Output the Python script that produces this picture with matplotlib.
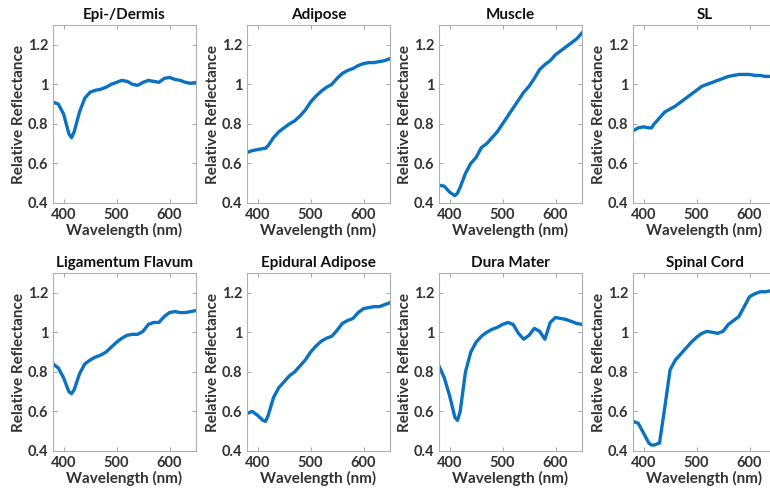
import matplotlib
matplotlib.use("Agg")
import matplotlib.pyplot as plt

plt.rcParams['font.family'] = ['Lato', 'DejaVu Sans']
plt.rcParams['font.weight'] = 'bold'

wl = [380, 390, 400, 410, 415, 420, 430, 440, 450, 460, 470, 480, 490, 500,
      510, 520, 530, 540, 550, 560, 570, 580, 590, 600, 610, 620, 630, 640, 650]

titles = ["Epi-/Dermis", "Adipose", "Muscle", "SL",
          "Ligamentum Flavum", "Epidural Adipose", "Dura Mater", "Spinal Cord"]

epi = [0.91, 0.90, 0.85, 0.75, 0.73, 0.76, 0.86, 0.93, 0.96, 0.97, 0.975, 0.985, 1.0, 1.01,
       1.02, 1.015, 1.0, 0.995, 1.01, 1.02, 1.015, 1.01, 1.03, 1.035, 1.025, 1.02, 1.01, 1.005, 1.01]
adipose = [0.655, 0.665, 0.67, 0.675, 0.677, 0.69, 0.73, 0.76, 0.78, 0.80, 0.815, 0.84, 0.87, 0.91,
           0.94, 0.965, 0.985, 1.0, 1.03, 1.055, 1.07, 1.08, 1.095, 1.105, 1.11, 1.11, 1.115, 1.12, 1.13]
muscle = [0.49, 0.485, 0.455, 0.437, 0.45, 0.48, 0.55, 0.60, 0.63, 0.68, 0.70, 0.73, 0.76, 0.80,
          0.84, 0.88, 0.92, 0.96, 0.99, 1.03, 1.075, 1.10, 1.12, 1.15, 1.17, 1.19, 1.21, 1.23, 1.26]
sl = [0.765, 0.78, 0.785, 0.78, 0.78, 0.80, 0.83, 0.86, 0.875, 0.89, 0.91, 0.93, 0.95, 0.97,
      0.99, 1.0, 1.01, 1.02, 1.03, 1.04, 1.045, 1.05, 1.05, 1.05, 1.045, 1.045, 1.04, 1.04, 1.04]
lig = [0.84, 0.82, 0.77, 0.70, 0.69, 0.71, 0.79, 0.84, 0.86, 0.875, 0.885, 0.90, 0.925, 0.95,
       0.97, 0.985, 0.99, 0.99, 1.005, 1.04, 1.05, 1.05, 1.08, 1.10, 1.105, 1.10, 1.10, 1.105, 1.11]
epidural = [0.59, 0.60, 0.58, 0.555, 0.55, 0.58, 0.67, 0.72, 0.75, 0.78, 0.80, 0.83, 0.86, 0.90,
            0.93, 0.955, 0.97, 0.98, 1.01, 1.045, 1.06, 1.07, 1.10, 1.12, 1.125, 1.13, 1.13, 1.14, 1.15]
dura = [0.83, 0.77, 0.68, 0.57, 0.555, 0.60, 0.80, 0.90, 0.95, 0.98, 1.0, 1.015, 1.025, 1.04,
        1.05, 1.04, 0.995, 0.965, 0.985, 1.02, 1.005, 0.965, 1.05, 1.075, 1.07, 1.065, 1.055, 1.045, 1.04]
cord = [0.55, 0.54, 0.49, 0.44, 0.43, 0.43, 0.44, 0.62, 0.81, 0.86, 0.89, 0.92, 0.95, 0.975,
        0.995, 1.005, 1.0, 0.995, 1.005, 1.04, 1.06, 1.08, 1.13, 1.18, 1.195, 1.205, 1.205, 1.21, 1.21]

spectra = [epi, adipose, muscle, sl, lig, epidural, dura, cord]

fig = plt.figure(figsize=(7.7, 4.93), dpi=100)
lefts = [53, 247, 439, 633]
tops = [25, 273]
W, H = 143, 178

for i, (name, ys) in enumerate(zip(titles, spectra)):
    r, c = divmod(i, 4)
    ax = fig.add_axes([lefts[c] / 770, 1 - (tops[r] + H) / 493, W / 770, H / 493])
    ax.plot(wl, ys, color='#0a72c0', lw=2.4)
    ax.set_xlim(380, 650)
    ax.set_ylim(0.4, 1.3)
    ax.set_xticks([400, 500, 600])
    ax.set_yticks([0.4, 0.6, 0.8, 1.0, 1.2])
    ax.set_yticklabels(['0.4', '0.6', '0.8', '1', '1.2'])
    ax.tick_params(direction='in', length=3, width=0.6, color='#999999',
                   labelsize=10.5, labelcolor='#333333', top=True, right=True)
    for s in ax.spines.values():
        s.set_color('#b0b0b0')
        s.set_linewidth(0.8)
    ax.set_title(name, fontsize=11, fontweight='bold', color='#111111', pad=4)
    ax.set_xlabel('Wavelength (nm)', fontsize=11, fontweight='bold', color='#333333', labelpad=1)
    ax.set_ylabel('Relative Reflectance', fontsize=11, fontweight='bold', color='#333333', labelpad=1)

fig.savefig('out.png', dpi=100)
